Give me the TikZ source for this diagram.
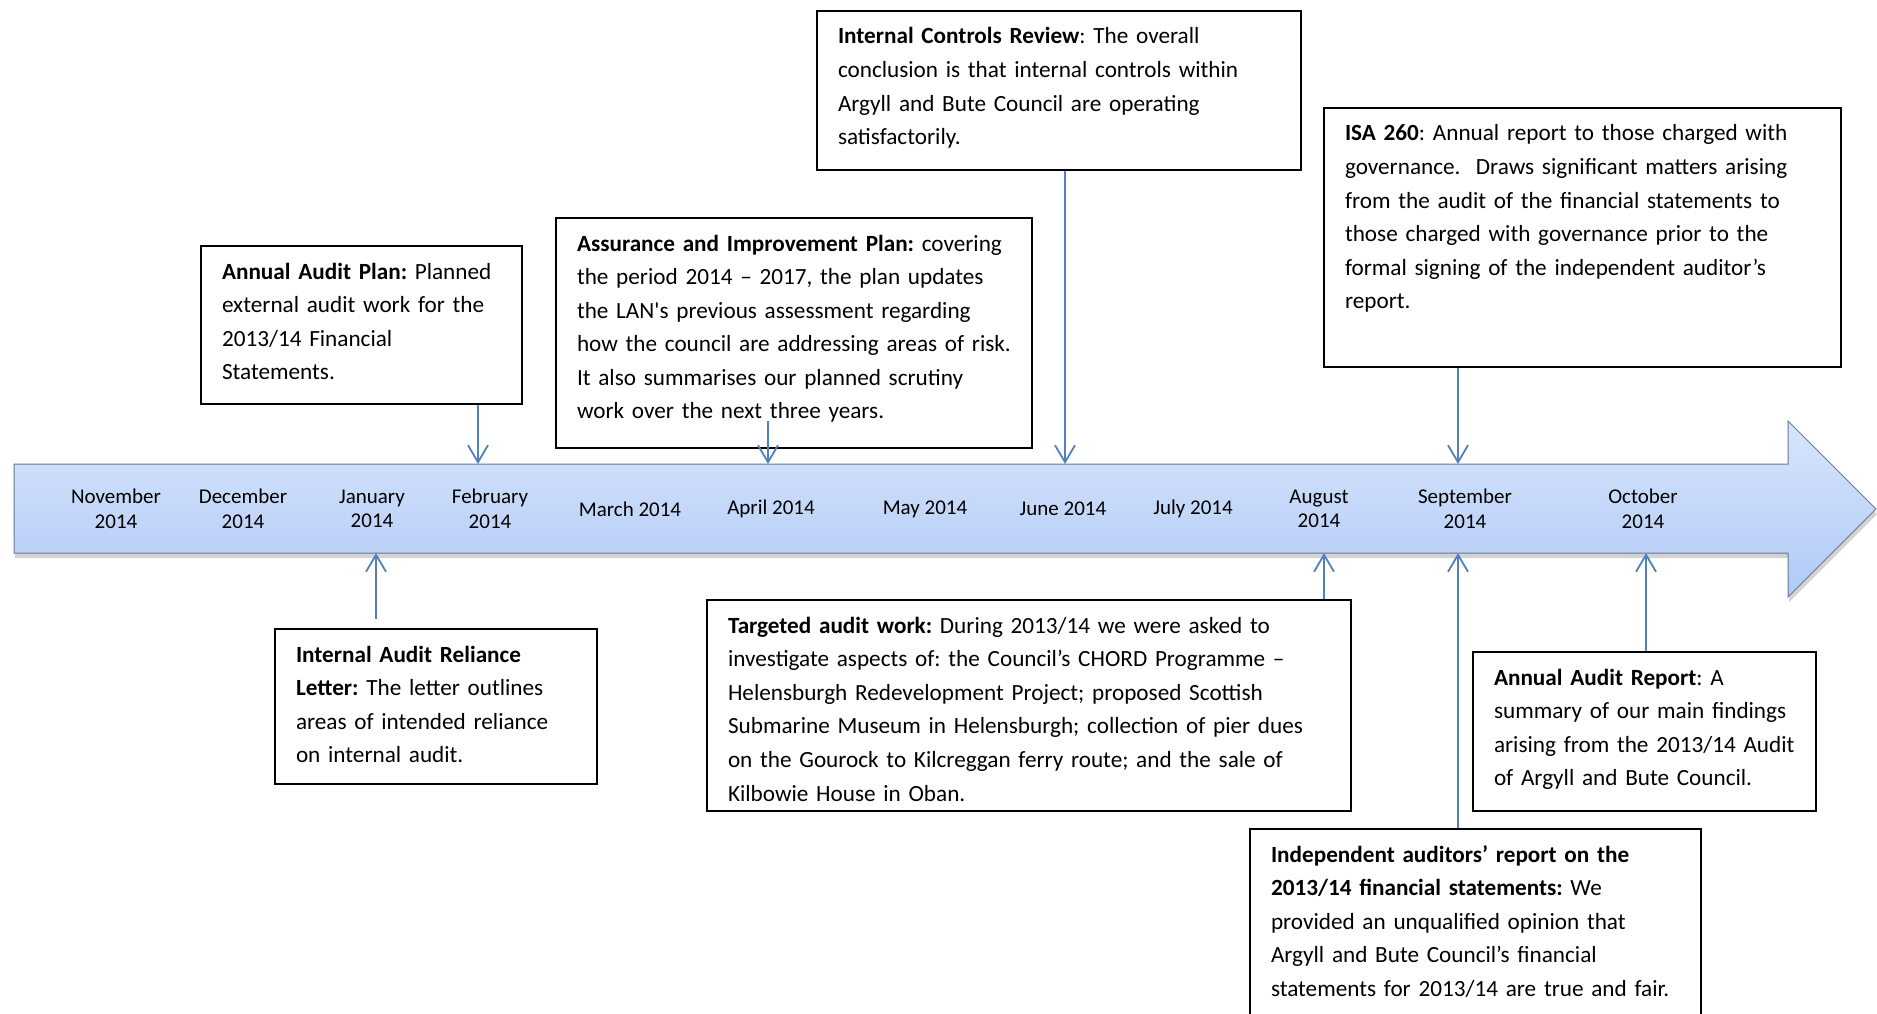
\documentclass[tikz,border=0pt]{standalone}
\usepackage{fontspec}
\setmainfont{Carlito}
\usetikzlibrary{arrows.meta,shadows}

\definecolor{linkblue}{RGB}{79,129,189}
\definecolor{bartop}{RGB}{216,229,252}
\definecolor{barbottom}{RGB}{176,202,246}
\definecolor{baredge}{RGB}{105,120,148}
\newcommand{\notefont}{\fontsize{23.2}{33.6}\selectfont\frenchspacing\hyphenpenalty=10000 }
\newcommand{\monthfont}{\fontsize{21}{24.5}\selectfont}

\begin{document}
\begin{tikzpicture}[x=1pt, y=-1pt,
  note/.style={draw, line width=2pt, anchor=north west, align=left,
    inner xsep=21pt, inner ysep=14pt, text height=19pt, font=\notefont},
  month/.style={align=center, font=\monthfont},
  link/.style={draw=linkblue, line width=1.8pt,
    -{Straight Barb[length=17pt, width=20pt]}}
]
  \clip (0,0) rectangle (1877,1014);

  % timeline arrow
  \draw[draw=baredge, line width=1pt, top color=bartop, bottom color=barbottom,
    drop shadow={shadow xshift=1pt, shadow yshift=-5pt, opacity=0.35}]
    (14,464) -- (1788,464) -- (1788,421) -- (1876,509) -- (1788,597)
    -- (1788,553) -- (14,553) -- cycle;

  \foreach \mx/\mlab [count=\i] in {116/{November\\2014}, 243/{December\\2014},
      372/{January\\2014}, 490/{February\\2014}, 630/{March 2014},
      771/{April 2014}, 925/{May 2014}, 1063/{June 2014}, 1193/{July 2014},
      1319/{August\\2014}, 1465/{September\\2014}, 1643/{October\\2014}}
    \node[month] (m\i) at (\mx,509) {\mlab};

  % ends of the connectors on the timeline
  \coordinate (feb-top) at (478,464);
  \coordinate (apr-top) at (768,464);
  \coordinate (jun-top) at (1065,464);
  \coordinate (sep-top) at (1458,464);
  \coordinate (jan-bot) at (376,553);
  \coordinate (aug-bot) at (1324,553);
  \coordinate (sep-bot) at (1458,553);
  \coordinate (oct-bot) at (1646,553);

  % notes above the timeline
  \node[note, text width=279pt, text depth=111pt] (plan) at (200,245)
    {\textbf{Annual Audit Plan:} Planned\\
     external audit work for the\\
     2013/14 Financial\\
     Statements.};
  \node[note, text width=434pt, text depth=183pt] (aip) at (555,217)
    {\textbf{Assurance and Improvement Plan:} covering\\
     the period 2014 -- 2017, the plan updates\\
     the LAN\textquotesingle s previous assessment regarding\\
     how the council are addressing areas of risk.\\
     It also summarises our planned scrutiny\\
     work over the next three years.};
  \node[note, text width=442pt, text depth=112pt] (icr) at (816,10)
    {\textbf{Internal Controls Review}: The overall\\
     conclusion is that internal controls within\\
     Argyll and Bute Council are operating\\
     satisfactorily.};
  \node[note, text width=475pt, text depth=212pt] (isa) at (1323,107)
    {\textbf{ISA 260}: Annual report to those charged with\\
     governance.\ \ Draws significant matters arising\\
     from the audit of the financial statements to\\
     those charged with governance prior to the\\
     formal signing of the independent auditor’s\\
     report.};

  % notes below the timeline
  \node[note, text width=280pt, text depth=108pt] (rel) at (274,628)
    {\textbf{Internal Audit Reliance}\\
     \textbf{Letter:} The letter outlines\\
     areas of intended reliance\\
     on internal audit.};
  \node[note, text width=602pt, text depth=164pt] (tgt) at (706,599)
    {\textbf{Targeted audit work:} During 2013/14 we were asked to\\
     investigate aspects of: the Council’s CHORD Programme --\\
     Helensburgh Redevelopment Project; proposed Scottish\\
     Submarine Museum in Helensburgh; collection of pier dues\\
     on the Gourock to Kilcreggan ferry route; and the sale of\\
     Kilbowie House in Oban.};
  \node[note, text width=301pt, text depth=112pt] (aar) at (1472,651)
    {\textbf{Annual Audit Report}: A\\
     summary of our main findings\\
     arising from the 2013/14 Audit\\
     of Argyll and Bute Council.};
  \node[note, text width=409pt, text depth=200pt] (ind) at (1249,828)
    {\textbf{Independent auditors’ report on the}\\
     \textbf{2013/14 financial statements:} We\\
     provided an unqualified opinion that\\
     Argyll and Bute Council’s financial\\
     statements for 2013/14 are true and fair.};

  % connectors
  \draw[link] (plan.south -| feb-top) -- (feb-top);
  \draw[link, shorten <=-28pt] (aip.south -| apr-top) -- (apr-top);
  \draw[link] (icr.south -| jun-top) -- (jun-top);
  \draw[link] (isa.south -| sep-top) -- (sep-top);
  \draw[link, shorten <=9pt] (rel.north -| jan-bot) -- (jan-bot);
  \draw[link] (tgt.north -| aug-bot) -- (aug-bot);
  \draw[link] (aar.north -| oct-bot) -- (oct-bot);
  \draw[link] (ind.north -| sep-bot) -- (sep-bot);
\end{tikzpicture}
\end{document}
